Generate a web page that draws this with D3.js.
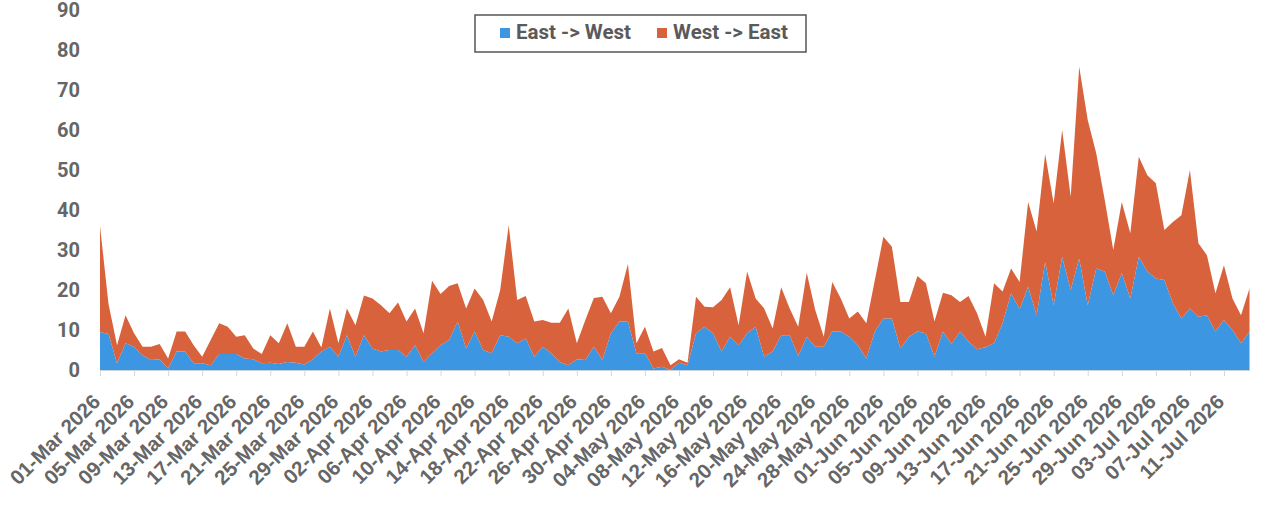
<!DOCTYPE html>
<html>
<head>
<meta charset="utf-8">
<script src="https://cdn.jsdelivr.net/npm/d3@7"></script>
<style>
  body { margin: 0; background: #fff; }
  svg { display: block; font-family: Roboto, "Open Sans", sans-serif; }
</style>
</head>
<body>
<svg id="chart"></svg>
<script>
// first day of the series, one value per day after that
const startDate = "2026-03-01";
const seriesNames = ["East -> West", "West -> East"];

const eastWest = [9.5, 9, 1.7, 6.7, 5.8, 3.7, 2.5, 2.7, 0.4, 4.6,
  4.6, 1.7, 1.7, 1.2, 4, 4, 4, 2.9, 2.7, 1.7,
  1.8, 1.5, 2, 1.8, 1.4, 2.7, 4.6, 5.8, 3.3, 8.7,
  3.3, 8.7, 5.4, 4.6, 5, 5, 3.3, 6.2, 2, 4.2,
  6.2, 7.5, 12.1, 5.4, 9.6, 5, 4.2, 8.7, 8.3, 6.7,
  7.9, 3.3, 5.8, 4.2, 2, 1.2, 2.7, 2.5, 5.8, 2.5,
  9.2, 12.1, 12.1, 4.2, 4.2, 0.4, 0.8, 0, 1.8, 1.2,
  9.2, 10.8, 9.2, 4.6, 8.3, 6.2, 9.2, 10.8, 3.3, 4.6,
  8.7, 8.7, 3.5, 8.3, 5.8, 5.8, 9.6, 9.6, 8.3, 6.2,
  2.9, 9.6, 12.9, 12.9, 5.4, 8.3, 9.6, 9.2, 3.3, 9.6,
  6.5, 9.6, 7.1, 5.2, 5.7, 6.7, 11.7, 19.2, 15.2, 20.8,
  13.7, 27, 16.2, 28.3, 20, 27.9, 16.2, 25.4, 24.6, 18.7,
  24.2, 17.9, 28.3, 24.6, 22.9, 22.5, 16.7, 12.9, 15.4, 13.3,
  13.7, 9.6, 12.5, 10, 6.7, 9.6];

const westEast = [26.5, 7.5, 4.5, 7, 3.4, 2.1, 3.3, 3.8, 2.5, 5,
  5, 4.5, 1.6, 6.3, 7.7, 6.8, 4.3, 5.8, 2.7, 2.3,
  6.9, 5.2, 9.7, 4, 4.4, 6.9, 1, 9.6, 3.4, 6.7,
  7.9, 9.9, 12.5, 11.6, 9.2, 11.9, 8.8, 9.2, 7.2, 18.1,
  12.8, 13.5, 9.6, 10, 10.8, 12.5, 7.9, 11.3, 27.9, 10.8,
  10.6, 8.8, 6.7, 7.6, 9.8, 14.2, 4, 10, 12.2, 15.8,
  5, 6.2, 14.4, 2.5, 6.6, 4.2, 4.7, 1.2, 0.9, 0.6,
  9.1, 5, 6.5, 12.9, 12.4, 5, 15.4, 7.1, 12.1, 5.8,
  12, 6.7, 7.3, 16, 9.2, 2.5, 12.4, 8.3, 4.6, 8.4,
  8.8, 12.9, 20.4, 17.9, 11.6, 8.7, 13.9, 12.5, 8.8, 9.7,
  12.2, 7.4, 11.4, 9, 2.6, 15, 7.9, 6.2, 6.8, 21.2,
  20.9, 27, 25.5, 31.7, 23.3, 47.9, 46.3, 28.8, 17.9, 11.3,
  17.8, 16.3, 25, 24.1, 23.8, 12.5, 20.3, 25.8, 34.6, 18.4,
  15, 9.6, 13.7, 7.9, 7, 10.8];

const yTicks = [0, 10, 20, 30, 40, 50, 60, 70, 80, 90];
const tickEvery = 4; // one date label every 4 days

const colors = ["#3c96e2", "#d8623b"];

const width = 1280, height = 521;
const plotLeft = 100, plotRight = 1249.5, plotTop = 10, plotBottom = 370;

const svg = d3.select("#chart")
  .attr("width", width)
  .attr("height", height);

const parseDay = d3.timeParse("%Y-%m-%d");
const first = parseDay(startDate);
const data = eastWest.map(function (v, i) {
  return { date: d3.timeDay.offset(first, i), "East -> West": v, "West -> East": westEast[i] };
});

const x = d3.scaleTime()
  .domain(d3.extent(data, d => d.date))
  .range([plotLeft, plotRight]);

const y = d3.scaleLinear()
  .domain([0, 90])
  .range([plotBottom, plotTop]);

const color = d3.scaleOrdinal().domain(seriesNames).range(colors);
const stackedData = d3.stack().keys(seriesNames)(data);

// areas
const area = d3.area()
  .x(d => x(d.data.date))
  .y0(d => y(d[0]))
  .y1(d => y(d[1]));

svg.append("g")
  .selectAll("path")
  .data(stackedData)
  .join("path")
  .attr("fill", d => color(d.key))
  .attr("d", area);

// x axis
const tickDates = data.filter((d, i) => i % tickEvery === 0).map(d => d.date);
const xAxis = svg.append("g")
  .attr("transform", `translate(0, ${plotBottom})`)
  .call(d3.axisBottom(x)
    .tickValues(tickDates)
    .tickSize(6)
    .tickSizeOuter(0)
    .tickFormat(d3.timeFormat("%d-%b %Y")));

xAxis.select(".domain").attr("stroke", "#c9d3dc");
xAxis.selectAll(".tick line").attr("stroke", "#d6d6d6");
xAxis.selectAll("text")
  .attr("fill", "#666")
  .style("font-size", "20.5px")
  .style("font-weight", "bold")
  .style("text-anchor", "end")
  .attr("x", 0)
  .attr("y", 0)
  .attr("dy", 0)
  .attr("transform", "translate(1, 33) rotate(-45)");

// y axis labels
svg.append("g")
  .selectAll("text")
  .data(yTicks)
  .join("text")
  .attr("x", 80)
  .attr("y", d => y(d))
  .attr("dy", "0.36em")
  .attr("text-anchor", "end")
  .attr("fill", "#666")
  .style("font-size", "20px")
  .style("font-weight", "bold")
  .text(d => d);

// legend
const legend = svg.append("g");
legend.append("rect")
  .attr("x", 475)
  .attr("y", 15)
  .attr("width", 331)
  .attr("height", 37)
  .attr("fill", "#fff")
  .attr("stroke", "#555")
  .attr("stroke-width", 1.5);

const legendX = [500, 657];
legend.selectAll("rect.key")
  .data(seriesNames)
  .join("rect")
  .attr("class", "key")
  .attr("x", (d, i) => legendX[i])
  .attr("y", 28)
  .attr("width", 10)
  .attr("height", 10)
  .attr("fill", d => color(d));

legend.selectAll("text")
  .data(seriesNames)
  .join("text")
  .attr("x", (d, i) => legendX[i] + 16)
  .attr("y", 39)
  .attr("fill", "#5a5a5a")
  .style("font-size", "20.5px")
  .style("font-weight", "bold")
  .text(d => d);
</script>
</body>
</html>
